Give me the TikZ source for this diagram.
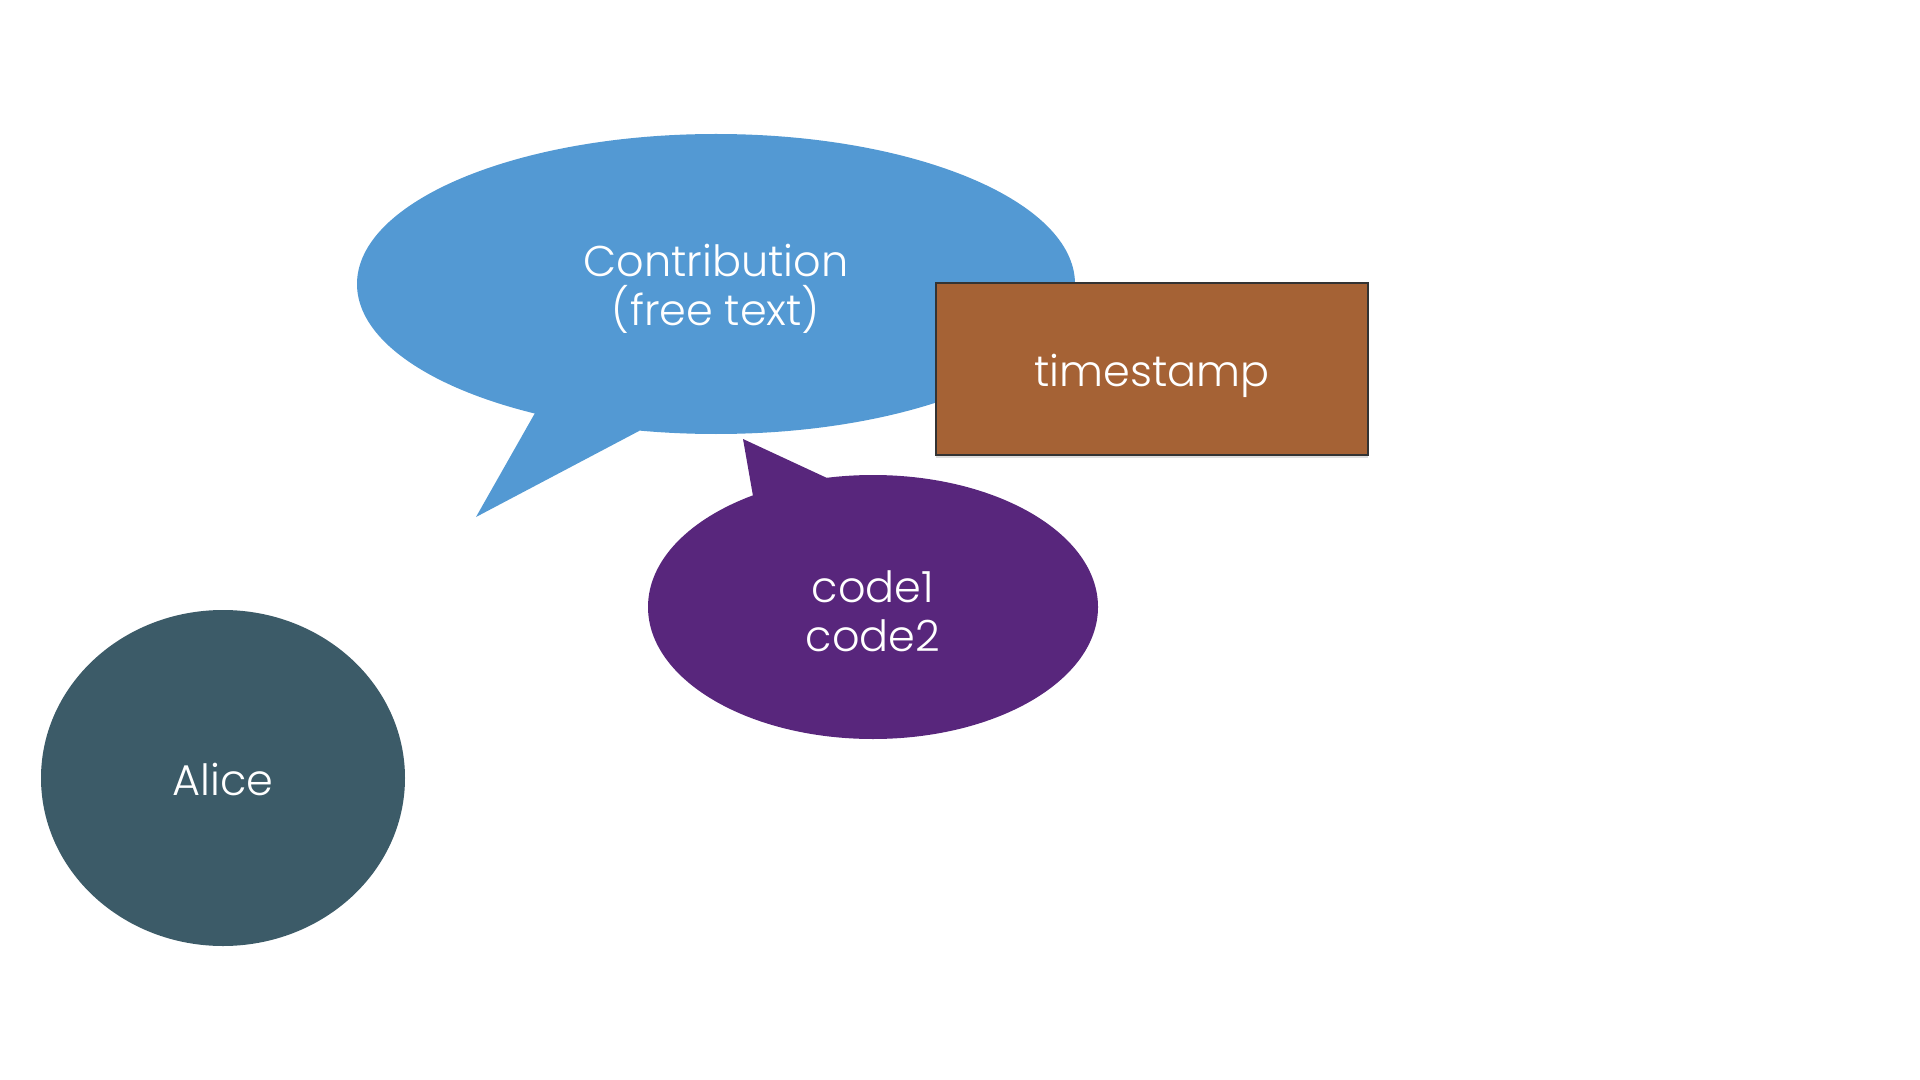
\documentclass[tikz,border=0pt]{standalone}
\usepackage{fontspec}
\setmainfont{Poppins}[UprightFont={* Light}]
\usetikzlibrary{shapes.geometric,shadows}
\definecolor{cblue}{HTML}{5399D3}
\definecolor{cbrown}{HTML}{A56235}
\definecolor{cpurple}{HTML}{58267C}
\definecolor{calice}{HTML}{3C5B68}
\tikzset{
  bubble/.style={ellipse, inner sep=0pt, draw=none},
  lbl/.style={inner sep=0pt, text=white, align=center,
    font=\fontsize{21.5}{24.5}\selectfont},
  stampbox/.style={rectangle, inner sep=0pt, draw=black!80, line width=0.6pt, fill=cbrown,
    drop shadow={shadow xshift=0pt, shadow yshift=-1.5pt, opacity=0.25}}
}
\begin{document}
\begin{tikzpicture}[x=0.5pt,y=-0.5pt]
\useasboundingbox (0,0) rectangle (1920,1080);
% blue speech bubble
\fill[cblue] (535,413) -- (476,517) -- (639,431) -- (716,284) -- cycle;
\node[bubble, fill=cblue, minimum width=359pt, minimum height=150pt] (contrib) at (716,284) {};
\node[lbl] (contribtext) at ([yshift=-2.5pt]contrib.center) {Contribution\\(free text)};
% timestamp
\node[stampbox, minimum width=216pt, minimum height=86pt] (stamp) at (1152,369) {};
\node[lbl] (stamptext) at ([yshift=-3.5pt]stamp.center) {timestamp};
% purple bubble
\fill[cpurple] (753,496) -- (743,439) -- (827,478) -- (873,607) -- cycle;
\node[bubble, fill=cpurple, minimum width=225pt, minimum height=132pt] (codes) at (873,607) {};
\node[lbl] (codestext) at ([yshift=-2pt]codes.center) {code1\\code2};
% Alice
\node[bubble, fill=calice, minimum width=182pt, minimum height=168pt] (alice) at (223,778) {};
\node[lbl] (alicetext) at ([yshift=-0.5pt]alice.center) {Alice};
\end{tikzpicture}
\end{document}
